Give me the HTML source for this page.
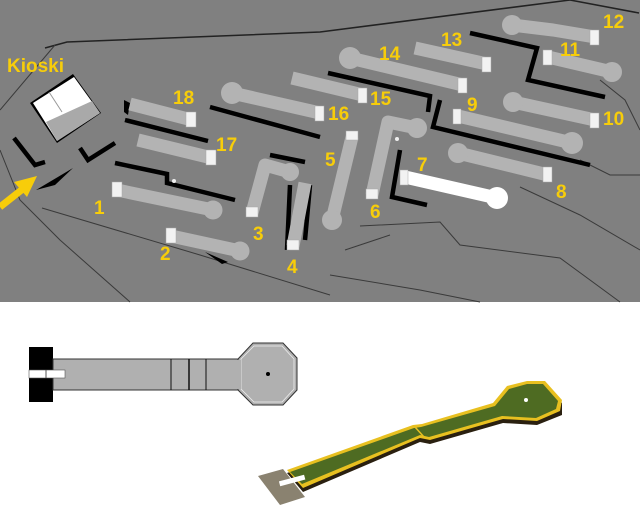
<!DOCTYPE html>
<html><head><meta charset="utf-8"><style>
html,body{margin:0;padding:0;background:#fff;}
svg{display:block}
.l{font-family:"Liberation Sans",sans-serif;font-weight:bold;font-size:19px;fill:#f7cd0a}
</style></head><body>
<svg width="640" height="528" viewBox="0 0 640 528" xmlns="http://www.w3.org/2000/svg">
<rect x="0" y="0" width="640" height="302" fill="#808080"/>
<g fill="none" stroke="#222" stroke-width="1.5">
<polyline points="45,48 67,42 320,32 570,0"/>
<polyline points="570,0 639,13"/>
</g>
<g fill="none" stroke="#3a3a3a" stroke-width="1">
<polyline points="0,110 55,45"/>
<polyline points="0,150 20,200 60,240 130,302"/>
<polyline points="42,208 200,255 330,295"/>
<polyline points="360,226 440,222 460,245 560,258 620,302"/>
<polyline points="345,250 390,235"/>
<polyline points="520,187 580,215 640,250"/>
<polyline points="600,80 625,100 640,130"/>
<polyline points="580,160 610,175 640,175"/>
<polyline points="330,275 420,290 480,302"/>
</g>
<g fill="none" stroke="#000" stroke-width="4.5">
<polyline points="470,33 537,48 528,80 605,97"/>
<polyline points="328,73 430,96 428,112"/>
<polyline points="440,100 433,127 590,165"/>
<polyline points="210,107 320,137"/>
<polyline points="125,120 208,141"/>
<polyline points="115,163 167,174 167,183 235,200"/>
<polyline points="400,150 392,197 427,205"/>
<polyline points="290,185 287,250"/>
<polyline points="310,185 305,240"/>
<polyline points="270,155 305,162"/>
<polyline points="14,138 35,165 45,162"/>
<polyline points="80,148 88,160 115,143"/>
</g>
<polygon points="36,190 73,168 55,185" fill="#000"/>
<polygon points="124,100 130,103 128,115 124,112" fill="#000"/>
<polygon points="205,252 228,262 222,264" fill="#000"/>
<!-- kiosk -->
<polygon points="30,103 73,74 101,113 57,143" fill="#000"/>
<polygon points="33,103 74,77 100,113 57,141" fill="#fff"/>
<polygon points="46,122 92,101 100,113 57,141" fill="#a9a9a9"/>
<line x1="49" y1="92" x2="62" y2="112" stroke="#999"/>
<!-- arrow -->
<line x1="0" y1="207" x2="24" y2="188" stroke="#f7cd0a" stroke-width="7"/>
<polygon points="37,176 14,182 27,197" fill="#f7cd0a"/>
<g fill="none" stroke="#b3b3b3" stroke-width="13" stroke-linejoin="round">
<polyline points="130,104 192,120"/>
<polyline points="138,140 212,158"/>
<polyline points="117,190 213,210"/>
<polyline points="171,236 240,251"/>
<polyline points="252,213 265,165 290,172"/>
<polyline points="293,246 305,183"/>
<polyline points="352,137 332,220"/>
<polyline points="372,195 388,122 417,128"/>
<polyline points="458,153 548,175"/>
<polyline points="458,116 572,143"/>
<polyline points="513,102 595,120"/>
<polyline points="548,57 612,72"/>
<polyline points="512,25 553,30 595,37"/>
<polyline points="415,48 487,64"/>
<polyline points="350,58 463,85"/>
<polyline points="292,78 363,95"/>
<polyline points="232,93 320,113"/>
</g>
<g fill="#b3b3b3">
<circle cx="213" cy="210" r="9.5"/><circle cx="240" cy="251" r="9.5"/><circle cx="290" cy="172" r="9"/>
<circle cx="332" cy="220" r="10"/><circle cx="417" cy="128" r="10"/><circle cx="458" cy="153" r="10"/>
<circle cx="572" cy="143" r="11"/><circle cx="513" cy="102" r="10"/><circle cx="612" cy="72" r="10"/>
<circle cx="512" cy="25" r="10"/><circle cx="350" cy="58" r="11"/><circle cx="232" cy="93" r="11"/>
</g>
<line x1="405" y1="177" x2="497" y2="198" stroke="#fff" stroke-width="13"/>
<circle cx="497" cy="198" r="11" fill="#fff"/>
<g fill="#f2f2f2" stroke="#aaa" stroke-width="0.5">
<rect x="186" y="112" width="10" height="15"/><rect x="206" y="150" width="10" height="15"/>
<rect x="112" y="182" width="10" height="15"/><rect x="166" y="228" width="10" height="15"/>
<rect x="246" y="207" width="12" height="10"/><rect x="287" y="240" width="12" height="10"/>
<rect x="346" y="131" width="12" height="9"/><rect x="366" y="189" width="12" height="10"/>
<rect x="400" y="170" width="8" height="15"/><rect x="543" y="167" width="9" height="15"/>
<rect x="453" y="109" width="8" height="15"/><rect x="590" y="113" width="9" height="15"/>
<rect x="543" y="50" width="9" height="15"/><rect x="590" y="30" width="9" height="15"/>
<rect x="482" y="57" width="9" height="15"/><rect x="458" y="78" width="9" height="15"/>
<rect x="358" y="88" width="9" height="15"/><rect x="315" y="106" width="9" height="15"/>
</g>
<circle cx="174" cy="181" r="2" fill="#eee"/><circle cx="397" cy="139" r="2" fill="#eee"/>
<text class="l" x="7" y="72">Kioski</text>
<text class="l" x="173" y="104">18</text>
<text class="l" x="216" y="151">17</text>
<text class="l" x="94" y="214">1</text>
<text class="l" x="160" y="260">2</text>
<text class="l" x="253" y="240">3</text>
<text class="l" x="287" y="273">4</text>
<text class="l" x="325" y="166">5</text>
<text class="l" x="370" y="218">6</text>
<text class="l" x="417" y="171">7</text>
<text class="l" x="556" y="198">8</text>
<text class="l" x="467" y="111">9</text>
<text class="l" x="603" y="125">10</text>
<text class="l" x="560" y="56">11</text>
<text class="l" x="603" y="28">12</text>
<text class="l" x="441" y="46">13</text>
<text class="l" x="379" y="60">14</text>
<text class="l" x="370" y="105">15</text>
<text class="l" x="328" y="120">16</text>
<!-- bottom left plan -->
<rect x="29" y="347" width="24" height="55" fill="#000"/>
<rect x="53" y="359" width="188" height="31" fill="#b0b0b0" stroke="#333" stroke-width="1"/>
<polygon points="238,359 253,343 283,343 297,358 297,390 283,405 253,405 238,390" fill="#b0b0b0" stroke="#333" stroke-width="1"/>
<polygon points="241,359 254,346 282,346 294,359 294,389 282,402 254,402 241,389" fill="none" stroke="#eee" stroke-width="0.8"/>
<rect x="237" y="360" width="4" height="29" fill="#b0b0b0"/>
<line x1="171" y1="359" x2="171" y2="390" stroke="#111"/>
<line x1="189" y1="359" x2="189" y2="390" stroke="#111" stroke-width="1.5"/>
<line x1="206" y1="359" x2="206" y2="390" stroke="#111"/>
<rect x="29" y="370" width="36" height="8" fill="#fff" stroke="#555" stroke-width="0.6"/>
<line x1="46" y1="370" x2="46" y2="378" stroke="#555"/>
<circle cx="268" cy="374" r="2" fill="#000"/>
<!-- bottom right 3D -->
<polygon points="303,492 420,442 430,444 503,423 537,425 562,415 562,403 545,384 527,384 507,389 493,406 422,427 413,428 287,473" fill="#2a2010"/>
<polygon points="258,476 283,469 305,497 280,505" fill="#8a8270"/>
<polygon points="287,470 413,425 422,424 493,403 507,386 527,381 545,381 562,400 560,411 537,421 503,419 430,440 420,438 303,488" fill="#e8c020"/>
<polygon points="290,472 414,428 421,427 495,406 509,389 527,384 543,384 558,401 556,409 536,418 502,416 429,437 420,435 302,484" fill="#4e6b22"/>
<line x1="415" y1="427" x2="424" y2="437" stroke="#e8c020" stroke-width="1.5"/>
<rect x="279" y="478" width="26" height="5" fill="#fff" transform="rotate(-15 292 480)"/>
<circle cx="526" cy="400" r="2" fill="#fff"/>
</svg>
</body></html>
